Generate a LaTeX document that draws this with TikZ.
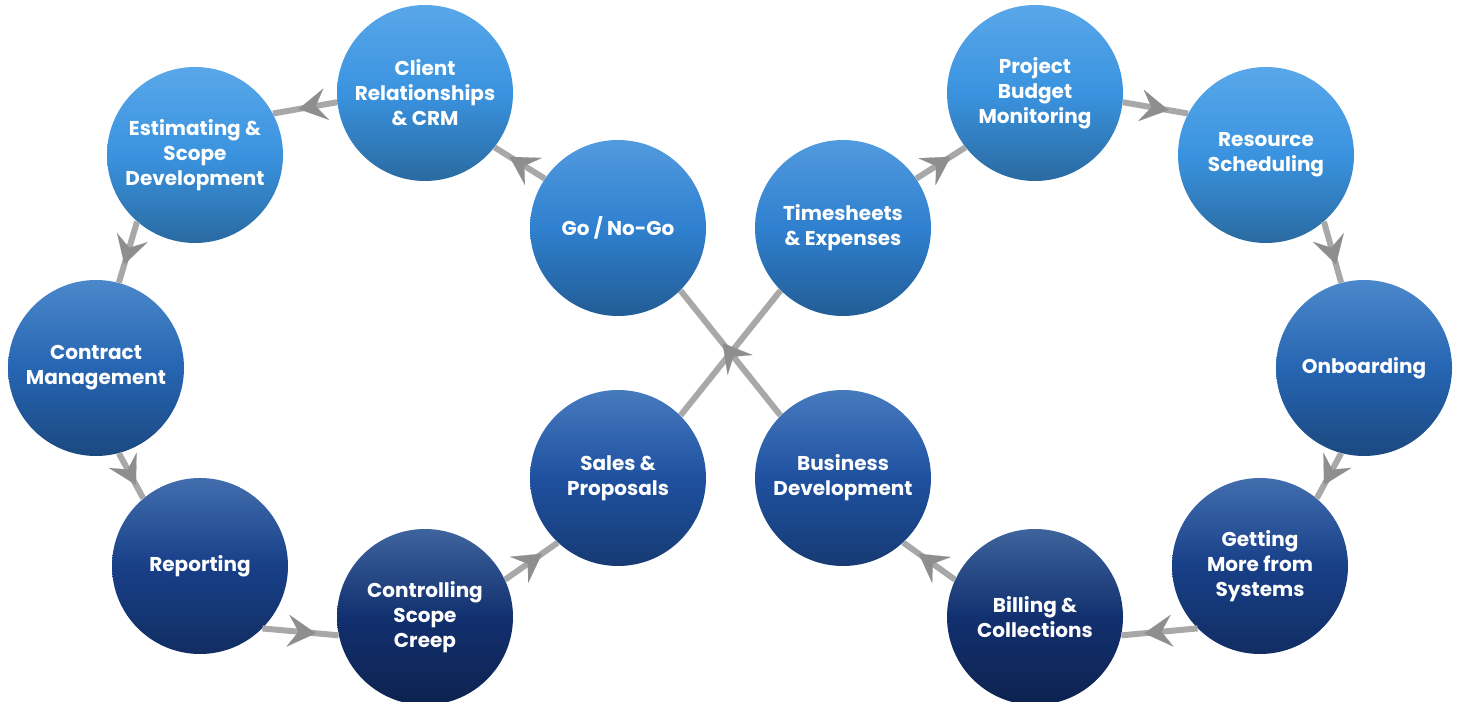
\documentclass[tikz,border=0pt]{standalone}
\usepackage{fontspec}
\setmainfont{Poppins}
\usetikzlibrary{arrows.meta,decorations.markings}

\definecolor{tonoA}{HTML}{3A93DF}
\definecolor{tonoB}{HTML}{2F80CF}
\definecolor{tonoC}{HTML}{2665B2}
\definecolor{tonoD}{HTML}{1F51A0}
\definecolor{tonoE}{HTML}{183F88}
\definecolor{tonoF}{HTML}{12306F}
\definecolor{cielo}{HTML}{9AD2FF}
\definecolor{gris}{HTML}{A8A8A8}
\definecolor{grisflecha}{HTML}{8E8E8E}

\tikzset{
  bola/.style={circle, minimum size=132pt, inner sep=0pt, align=center, text=white,
    font=\bfseries\fontsize{15}{18.75}\selectfont,
    top color=#1!68!cielo, bottom color=#1!72!black, middle color=#1},
  linea/.style={draw=gris, line width=4.5pt},
  flujo/.style={linea, postaction={decorate}, decoration={markings,
    mark=at position #1 with {\arrow[grisflecha]{Stealth[length=21pt,width=24pt,inset=8pt,line width=0.1pt]}}}},
  flujo/.default=0.7
}

\begin{document}
\begin{tikzpicture}[x=0.75pt, y=-0.75pt]
  \useasboundingbox (0,0) rectangle (1460,702);

  % Circulos, lazo izquierdo
  \node[bola=tonoB] (gonogo) at (618,228) {Go / No-Go};
  \node[bola=tonoA] (client) at (425,93) {Client\\Relationships\\\& CRM};
  \node[bola=tonoA] (estim) at (195,155) {Estimating \&\\Scope\\Development};
  \node[bola=tonoC] (contract) at (96,368) {Contract\\Management};
  \node[bola=tonoE] (report) at (200,566) {Reporting};
  \node[bola=tonoF] (scope) at (425,617) {Controlling\\Scope\\Creep};
  \node[bola=tonoD] (sales) at (618,478) {Sales \&\\Proposals};

  % Circulos, lazo derecho
  \node[bola=tonoB] (times) at (843,228) {Timesheets\\\& Expenses};
  \node[bola=tonoA] (budget) at (1035,93) {Project\\Budget\\Monitoring};
  \node[bola=tonoA] (resource) at (1266,155) {Resource\\Scheduling};
  \node[bola=tonoC] (onboard) at (1364,368) {Onboarding};
  \node[bola=tonoE] (systems) at (1260,566) {Getting\\More from\\Systems};
  \node[bola=tonoF] (billing) at (1035,617) {Billing \&\\Collections};
  \node[bola=tonoD] (bizdev) at (843,478) {Business\\Development};

  % Flechas, lazo izquierdo
  \draw[flujo] (gonogo.146) -- (client.-38);
  \draw[flujo=0.6] (client.186) -- (estim.28);
  \draw[flujo] (estim.229) -- (contract.75);
  \draw[flujo] (contract.285) -- (report.130);
  \draw[flujo] (report.-45) -- (scope.192);
  \draw[flujo] (scope.25) -- (sales.227);

  % Cruce central
  \draw[linea] (sales.45) -- (times.225);
  \draw[flujo=0.58] (bizdev.135) -- (gonogo.-45);

  % Flechas, lazo derecho
  \draw[flujo] (times.34) -- (budget.218);
  \draw[flujo] (budget.354) -- (resource.152);
  \draw[flujo] (resource.-49) -- (onboard.105);
  \draw[flujo] (onboard.255) -- (systems.50);
  \draw[flujo] (systems.225) -- (billing.-12);
  \draw[flujo] (billing.155) -- (bizdev.-47);
\end{tikzpicture}
\end{document}
